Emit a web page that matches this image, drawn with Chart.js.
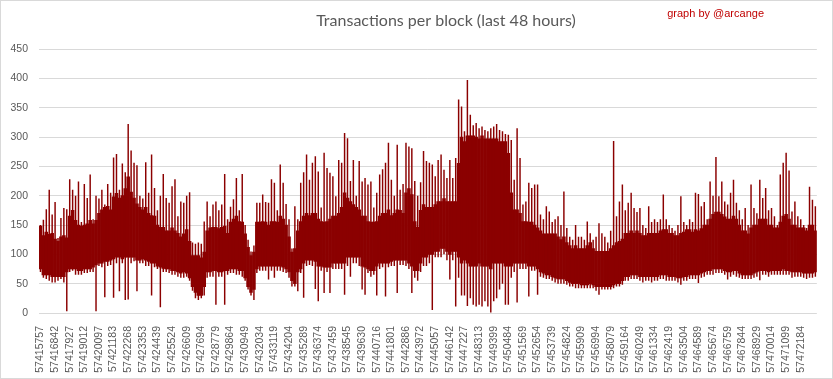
<!DOCTYPE html>
<html>
<head>
<meta charset="utf-8">
<script src="https://cdn.jsdelivr.net/npm/chart.js@4.4.0/dist/chart.umd.min.js"></script>
<style>
  html, body { margin: 0; padding: 0; background: #fff; }
  #chartContainer { width: 833px; height: 379px; }
</style>
</head>
<body>
<div id="chartContainer"><canvas id="txChart"></canvas></div>
<script>
const titleText = "Transactions per block (last 48 hours)";
const creditText = "graph by @arcange";

// x axis labels, one every 5 bars
const tickLabels = [
  "57415757", "57416842", "57417927", "57419012", "57420097", "57421183", "57422268",
  "57423353", "57424439", "57425524", "57426609", "57427694", "57428779", "57429864",
  "57430949", "57432034", "57433119", "57434204", "57435289", "57436374", "57437459",
  "57438545", "57439630", "57440716", "57441801", "57442886", "57443972", "57445057",
  "57446142", "57447227", "57448313", "57449399", "57450484", "57451569", "57452654",
  "57453739", "57454824", "57455909", "57456994", "57458079", "57459164", "57460249",
  "57461334", "57462419", "57463504", "57464589", "57465674", "57466759", "57467844",
  "57468929", "57470014", "57471099", "57472184"
];

// each bar covers ~217 blocks: highest spike, top of the dense band, bottom of the band, lowest dip
const peaks = [
  150,159,177,210,168, 189,128,162,179,177, 228,210,200,224,155, 220,196,236,160,200,
  195,210,185,220,205, 265,271,210,255,240, 322,277,256,252,200, 195,257,205,270,213,
  175,200,237,196,188, 216,228,165,190,188, 200,206,120,118,120, 118,156,190,165,185,
  190,175,185,237,160, 181,194,230,175,237, 150,125,105,115,188, 188,202,189,188,228,
  222,175,253,222,186, 160,110,182,160,222, 240,270,227,256,267, 241,180,273,247,239,
  233,199,261,256,307, 298,225,261,200,259, 224,230,219,224,180, 205,236,245,256,290,
  227,200,287,210,220, 290,284,281,225,200, 223,276,259,256,253, 233,261,270,244,230,
  261,230,264,364,352, 310,397,338,320,324, 315,318,312,310,315, 318,322,312,310,305,
  304,295,227,315,264, 185,190,222,213,219, 219,168,160,182,173, 155,160,165,150,207,
  145,130,125,150,130, 130,125,156,136,125, 130,153,136,130,120, 140,293,165,190,219,
  175,188,205,179,172, 179,150,145,182,155, 160,155,160,202,160, 150,145,140,150,199,
  155,150,160,155,205, 203,182,189,160,224, 200,266,199,224,190, 185,205,227,188,175,
  160,179,150,219,179, 170,227,196,213,175, 179,165,150,236,256, 273,243,173,190,165,
  160,150,145,215,193,182
];
const bandHigh = [
  148,132,138,134,136, 126,122,130,132,128, 165,175,158,150,148, 150,152,158,152,158,
  170,176,180,182,176, 198,204,196,200,212, 232,206,196,186,180, 176,180,170,166,165,
  150,146,146,140,140, 145,140,136,130,135, 142,122,98,98,98, 94,104,140,145,146,
  146,144,146,148,136, 155,160,165,156,155, 135,112,98,104,155, 155,156,155,150,156,
  156,155,165,160,150, 130,104,110,140,156, 165,170,166,170,170, 160,156,155,156,160,
  165,165,170,180,205, 196,190,185,180,176, 165,165,156,155,155, 156,165,170,170,176,
  166,170,176,175,170, 205,212,202,156,146, 175,185,180,180,180, 185,190,190,195,190,
  190,190,190,255,300, 292,302,302,302,300, 297,302,297,297,297, 297,297,292,292,292,
  272,205,176,176,170, 156,156,155,155,150, 145,140,135,135,135, 135,135,130,125,130,
  120,115,110,115,110, 110,110,115,120,110, 105,105,105,105,105, 110,115,120,122,126,
  136,136,140,136,140, 136,132,132,136,136, 136,136,140,142,142, 136,136,132,132,136,
  138,142,142,138,142, 140,144,150,150,160, 168,172,172,168,164, 160,160,165,160,150,
  140,140,135,145,150, 150,160,160,160,150, 150,145,145,155,165, 168,160,150,150,145,
  145,145,140,150,150,140
];
const bandLow = [
  75,65,65,65,62, 62,62,62,62,70, 75,75,75,72,72, 75,75,75,78,82,
  85,85,88,88,90, 92,95,95,92,95, 95,95,95,90,90, 92,90,88,85,85,
  80,78,76,75,75, 72,72,70,68,70, 68,60,45,35,30, 30,45,70,70,72,
  72,70,70,72,72, 75,75,75,72,72, 60,45,35,40,75, 80,80,80,80,80,
  80,80,80,78,75, 70,55,50,70,75, 85,90,90,90,88, 80,80,78,78,78,
  85,85,85,85,85, 95,95,95,95,95, 80,78,75,72,72, 80,85,85,85,85,
  88,90,90,90,90, 90,85,80,72,72, 85,95,95,100,100, 105,105,110,110,105,
  100,105,105,95,85, 90,85,80,80,80, 85,80,80,80,75, 85,85,85,85,80,
  80,80,85,85,85, 85,85,80,80,80, 75,70,68,65,65, 62,60,58,58,58,
  55,52,50,50,50, 48,48,48,50,48, 45,45,45,45,45, 45,48,50,50,55,
  62,62,65,65,65, 62,62,62,62,62, 62,62,65,65,65, 62,62,62,60,60,
  62,62,65,65,65, 65,68,70,72,72, 75,75,75,75,72, 70,70,72,72,68,
  65,65,65,65,68, 70,72,72,72,70, 72,72,72,72,75, 72,72,70,70,70,
  70,68,68,68,68,70
];
const dips = [
  70,60,58,55,52, 52,55,58,52,3, 70,72,65,65,65, 68,68,70,70,3,
  80,78,27,80,82, 26,85,37,85,22, 23,85,88,37,85, 85,80,80,30,78,
  75,10,70,70,68, 65,65,62,60,60, 62,55,38,25,22, 25,30,60,62,62,
  14,62,62,14,65, 68,68,65,65,62, 55,40,30,22,68, 72,72,72,57,72,
  60,72,72,70,68, 60,45,45,37,68, 26,80,82,80,41, 20,72,34,70,34,
  75,75,75,75,31, 80,62,85,85,80, 40,31,68,62,65, 30,75,78,28,78,
  80,80,34,82,82, 80,75,34,60,55, 70,80,80,85,5, 95,95,95,100,90,
  57,90,11,60,30, 30,12,25,14,11, 14,11,20,11,1, 20,25,40,50,14,
  14,60,70,18,75, 75,75,28,72,72, 31,62,60,58,58, 55,52,50,50,50,
  48,45,45,42,42, 42,42,42,42,42, 38,31,40,40,40, 40,42,45,45,48,
  55,55,58,58,58, 55,52,55,55,52, 55,55,58,58,55, 55,55,55,52,48,
  55,55,58,58,58, 51,60,62,65,65, 65,68,68,68,65, 57,62,65,62,60,
  58,58,58,58,60, 62,56,65,65,62, 65,65,65,65,65, 65,65,60,62,62,
  62,60,58,60,60,62
];

const barLabels = peaks.map((_, i) => (i % 5 === 0 && tickLabels[i / 5]) || "");
const barColor = "#8b0000";
const axisText = "#595959";

const chartDecor = {
  id: "chartDecor",
  afterDraw(chart) {
    const ctx = chart.ctx;
    ctx.save();
    ctx.strokeStyle = "#d9d9d9";
    ctx.lineWidth = 1;
    ctx.strokeRect(0.5, 0.5, chart.width - 1, chart.height - 1);

    ctx.textBaseline = "middle";
    ctx.textAlign = "center";
    ctx.fillStyle = axisText;
    ctx.font = "16px Lato";
    ctx.fillText(titleText, 446, 21);

    ctx.textAlign = "right";
    ctx.fillStyle = "#c00000";
    ctx.font = "11px 'Liberation Sans'";
    ctx.fillText(creditText, 764, 14);
    ctx.restore();
  }
};

new Chart(document.getElementById("txChart"), {
  type: "bar",
  data: {
    labels: barLabels,
    datasets: [
      {
        label: "spikes",
        data: dips.map((d, i) => [d, peaks[i]]),
        backgroundColor: barColor,
        barPercentage: 0.5,
        categoryPercentage: 1,
        grouped: false
      },
      {
        label: "Transactions",
        data: bandLow.map((d, i) => [d, bandHigh[i]]),
        backgroundColor: barColor,
        barPercentage: 1,
        categoryPercentage: 1,
        grouped: false
      }
    ]
  },
  options: {
    responsive: true,
    maintainAspectRatio: false,
    animation: false,
    layout: { padding: { top: 49, right: 15, left: 0, bottom: 0 } },
    plugins: {
      legend: { display: false },
      tooltip: { enabled: false },
      title: { display: false }
    },
    scales: {
      x: {
        grid: { display: false },
        border: { display: false },
        ticks: {
          autoSkip: false,
          minRotation: 90,
          maxRotation: 90,
          padding: 5,
          color: axisText,
          font: { family: "Liberation Sans", size: 10.5 }
        },
        afterFit(scale) { scale.height = 66; }
      },
      y: {
        min: 0,
        max: 450,
        border: { display: false },
        grid: { color: "#d9d9d9", drawTicks: false },
        ticks: {
          stepSize: 50,
          padding: 11,
          color: axisText,
          font: { family: "Liberation Sans", size: 10.5 }
        },
        afterFit(scale) { scale.width = 39; }
      }
    }
  },
  plugins: [chartDecor]
});
</script>
</body>
</html>
